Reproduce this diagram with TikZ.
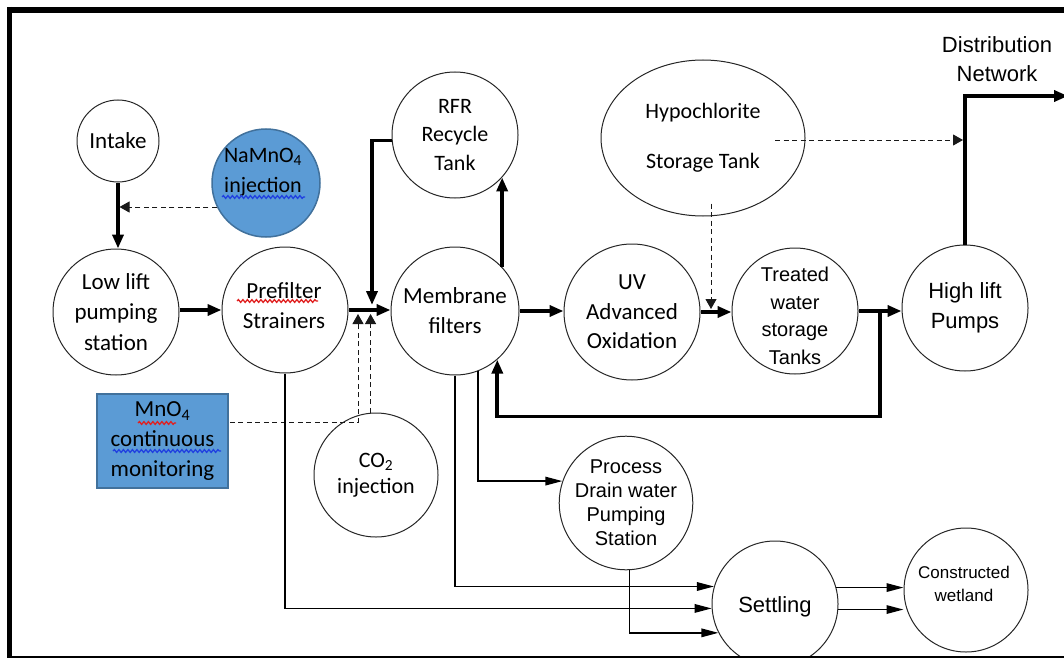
\documentclass[tikz,border=0pt]{standalone}
\usepackage{fontspec}
\setmainfont{Liberation Sans}
\newfontfamily\calib{Carlito}
\newfontfamily\ari{Liberation Sans}
\newcommand\cf[2]{\calib\fontsize{#1}{#2}\selectfont}
\newcommand\af[2]{\ari\fontsize{#1}{#2}\selectfont}
\usetikzlibrary{arrows.meta,calc,decorations.pathmorphing,shapes.geometric}
\definecolor{officeblue}{HTML}{5B9BD5}
\definecolor{officeborder}{HTML}{41719C}
\definecolor{wavered}{HTML}{E02020}
\definecolor{waveblue}{HTML}{2040E0}
\begin{document}
\begin{tikzpicture}[x=1pt,y=-1pt,
 circ/.style={circle,draw=black!85,line width=1pt,inner sep=0pt,align=center},
 bluefill/.style={fill=officeblue,draw=officeborder,line width=1.5pt},
 thickarr/.style={line width=3.7pt,line join=miter,-{Triangle[length=14pt,width=11pt]}},
 thinarr/.style={line width=1.6pt,-{Triangle[length=17pt,width=8.5pt]}},
 dasharr/.style={line width=1pt,draw=black!90,dash pattern=on 5pt off 3.5pt,-{Triangle[length=10pt,width=11pt]}},
 wave/.style={decorate,decoration={snake,amplitude=1.4pt,segment length=4.5pt},line width=1.3pt}
]
\useasboundingbox (0,0) rectangle (1064,658);
% frame (top, left)
\draw[line width=6pt] (7,10) -- (1064,10);
\draw[line width=5pt] (9.5,7) -- (9.5,658);

% nodes
\node[circ,minimum size=82pt,font=\cf{23}{29}] (intake) at (118,141) {Intake};
\node[circ,bluefill,minimum size=108pt] (na) at (266,183) {};
\node[align=center,font=\cf{22}{30}] (natext) at (263,172) {NaMnO\textsubscript{4}\\injection};
\node[circ,minimum size=126pt,font=\cf{23}{30.5}] (lowlift) at (116,312) {Low lift\\pumping\\station};
\node[circ,minimum size=126pt] (pf) at (285,310) {};
\node[align=center,font=\cf{23}{30}] (pftext) at (284,306) {Prefilter\\Strainers};
\node[circ,minimum size=126pt,font=\cf{22}{28.5}] (rfr) at (455,135) {RFR\\Recycle\\Tank};
\node[circ,minimum size=128pt,font=\cf{23}{30}] (mem) at (455,311) {Membrane\\filters};
\node[circ,minimum size=136pt,font=\cf{23}{29.5}] (uv) at (632,312) {UV\\Advanced\\Oxidation};
\node[ellipse,draw=black!85,line width=1pt,inner sep=0pt,minimum width=204pt,minimum height=156pt,align=center,font=\cf{22}{29}] (hypo) at (703,138) {Hypochlorite\\[21pt]Storage Tank};
\node[circ,minimum size=126pt] (tw) at (795,311) {};
\node[align=center,font=\af{20}{27.5}] (twtext) at (795,316) {Treated\\water\\storage\\Tanks};
\node[circ,minimum size=126pt,font=\af{22}{30}] (hl) at (965,308) {High lift\\Pumps};
\node[bluefill,minimum width=131pt,minimum height=94pt,align=center,font=\cf{23}{30}] (mno) at (162.5,441) {MnO\textsubscript{4}\\continuous\\monitoring};
\node[circ,minimum size=124pt,font=\cf{22}{26}] (co2) at (376,475) {CO\textsubscript{2}\\injection};
\node[circ,minimum size=128pt,font=\af{20}{24}] (pd) at (626,503) {Process\\Drain water\\Pumping\\Station};
\node[circ,minimum size=126pt] (set) at (775,604) {};
\node[font=\af{22}{27}] (settext) at (775,607) {Settling};
\node[circ,minimum size=124pt] (cw) at (966,590) {};
\node[align=center,font=\af{17}{23}] (cwtext) at (964,584) {Constructed\\wetland};
\node[align=center,font=\af{22}{29}] (dist) at (997,59) {Distribution\\Network};

% coordinates
\coordinate (jr) at (372,305);
\coordinate (jm) at (358,314);
\coordinate (mnoout) at ($(mno.east)+(1,-19)$);
\coordinate (hd) at ($(hypo.south)+(8,-13)$);
\coordinate (hr) at ($(hypo.center)+(72,2)$);
\coordinate (rc) at ($(tw.east)!0.5!(hl.west)$);
\coordinate (dn) at (1068,96);

% main flow
\draw[thickarr] (intake.south) -- (intake.south |- lowlift.north);
\draw[dasharr,shorten >=1.5pt] (na.206) -- (na.206 -| intake.south);
\draw[thickarr] (lowlift.east |- pf.west) -- (pf.west);
\draw[thickarr] (pf.east) -- (pf.east -| mem.west);
\draw[thickarr] (rfr.185) -| (jr);
\draw[dasharr] (mnoout) -| (jm);
\draw[dasharr] (co2.95) -- (co2.95 |- jm);
\draw[thickarr] (mem.43) -- (mem.43 |- rfr.-42);
\draw[thickarr] (mem.east) -- (mem.east -| uv.west);
\draw[thickarr] (uv.east) -- (uv.east -| tw.west);
\draw[dasharr] (hd) -- ($(hd |- uv.east)+(0,-3)$);
\draw[thickarr] (tw.east) -- (tw.east -| hl.west);
\draw[thickarr] (rc) -- ++(0,107) -| (mem.-49);
\draw[dasharr,shorten >=2pt] (hr) -- (hr -| hl.north);
\draw[thickarr] (hl.north) |- (dn);

% drains
\draw[thinarr] (mem.-69) |- (pd.161);
\draw[thinarr] (mem.south) |- (set.164);
\draw[thinarr] (pf.south) |- (set.184);
\draw[thinarr] (pd.-87) |- (set.207);
\draw[thinarr] (set.15) -- (set.15 -| cw.west);
\draw[thinarr] (set.-5) -- (set.-5 -| cw.west);

% spell-check underlines
\draw[wave,waveblue] (222,197) -- (305,197);
\draw[wave,wavered] (237,301) -- (318,301);
\draw[wave,wavered] (138,423) -- (176,423);
\draw[wave,waveblue] (113,451) -- (221,451);

% bottom frame line
\fill[white] (0,656) rectangle (1064,670);
\draw[line width=2pt] (7,657) -- (1064,657);
\end{tikzpicture}
\end{document}
